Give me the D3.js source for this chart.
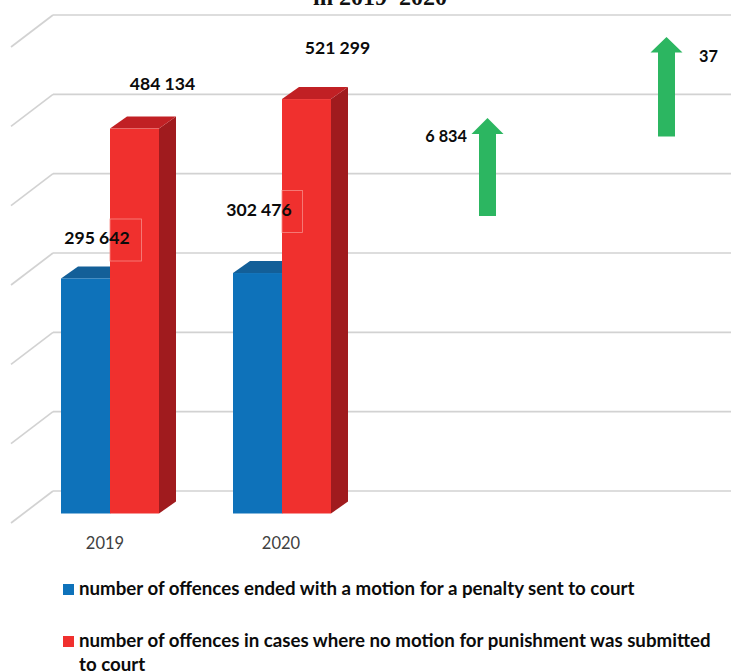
<!DOCTYPE html>
<html><head><meta charset="utf-8">
<script src="https://cdn.jsdelivr.net/npm/d3@7"></script>
<style>html,body{margin:0;padding:0;background:#fff;overflow:hidden}svg{display:block}text{font-family:Lato,sans-serif}</style>
</head><body><div id="chart"></div>
<script>
const years = ["2019", "2020"];
const seriesNames = ["number of offences ended with a motion for a penalty sent to court", "number of offences in cases where no motion for punishment was submitted to court"];
const seriesKeys = ["sent", "notSent"];
const sentValues = [295642, 302476];
const notSentValues = [484134, 521299];
const gridTicks = [0, 100000, 200000, 300000, 400000, 500000, 600000];
const titleLine = "in 2019\u20132020";
const changeLabels = ["6 834", "37"];

const W = 731, H = 672;
const svg = d3.select("#chart").append("svg").attr("width", W).attr("height", H);

const wallY = d3.scaleLinear().domain([0, 600000]).range([491, 15]);
const barY = d3.scaleLinear().domain([0, 600000]).range([513.5, 36.5]);
const groupX = d3.scalePoint().domain(years).range([61, 233]);
const seriesX = d3.scaleBand().domain(seriesKeys).range([0, 98]);
const floorDX = 42, floorDY = 32, barDX = 17, barDY = 12;

// walls
const grid = svg.append("g").attr("fill", "none").attr("stroke", "#d2d2d2").attr("stroke-width", 1.7);
grid.selectAll("line.h").data(gridTicks).join("line").attr("class", "h")
  .attr("x1", 53).attr("x2", W).attr("y1", d => wallY(d)).attr("y2", d => wallY(d));
grid.selectAll("line.d").data(gridTicks).join("line").attr("class", "d")
  .attr("x1", 53).attr("x2", 53 - floorDX).attr("y1", d => wallY(d)).attr("y2", d => wallY(d) + floorDY);

// title (clipped by the top edge, as in the reference)
svg.append("text").attr("x", 380).attr("y", 5).attr("text-anchor", "middle")
  .style("font-family", "'Liberation Serif',serif").attr("font-weight", 700).attr("font-size", 24).attr("fill", "#111").text(titleLine);

const colors = {
  sent: {front: "#0E72BA", top: "#135F98", side: "#0C4F80"},
  notSent: {front: "#F0302E", top: "#C12024", side: "#A01B1E"}
};
const rows = years.flatMap((y, i) => [
  {year: y, key: "sent", value: sentValues[i]},
  {year: y, key: "notSent", value: notSentValues[i]}
]);
const bars = svg.append("g").selectAll("g").data(rows).join("g");
const x0 = d => groupX(d.year) + seriesX(d.key);
const poly = pts => pts.map(p => p.join(",")).join(" ");
bars.append("polygon").attr("fill", d => colors[d.key].side).attr("points", d => {
  const x = x0(d) + seriesX.bandwidth(), t = barY(d.value), b = barY(0);
  return poly([[x, t], [x + barDX, t - barDY], [x + barDX, b - barDY], [x, b]]);
});
bars.append("polygon").attr("fill", d => colors[d.key].top).attr("points", d => {
  const x = x0(d), w = seriesX.bandwidth(), t = barY(d.value);
  return poly([[x, t], [x + w, t], [x + w + barDX, t - barDY], [x + barDX, t - barDY]]);
});
bars.append("rect").attr("fill", d => colors[d.key].front)
  .attr("x", x0).attr("width", seriesX.bandwidth())
  .attr("y", d => barY(d.value)).attr("height", d => barY(0) - barY(d.value));

// faint leftover label frames on the red bars
svg.append("g").attr("fill", "none").attr("stroke", "#f78a86").attr("stroke-width", 0.8)
  .selectAll("rect").data(years).join("rect")
  .attr("x", y => groupX(y) + seriesX("notSent"))
  .attr("y", (y, i) => [219, 190.5][i]).attr("height", 42)
  .attr("width", (y, i) => [31.5, 20.5][i]);

// value labels
const labelStyle = s => s.attr("font-weight", 700).attr("fill", "#0b0b0b");
svg.append("g").selectAll("text").data(rows).join("text").call(labelStyle)
  .attr("font-size", 17.6).attr("text-anchor", "middle")
  .attr("x", d => x0(d) + seriesX.bandwidth() / 2 + (d.key === "sent" ? (d.year === "2019" ? 11.5 : 1.5) : (d.year === "2019" ? 28 : 31)))
  .attr("y", d => barY(d.value) + (d.key === "sent" ? (d.year === "2019" ? -34 : -57) : (d.year === "2019" ? -39 : -45)))
  .text(d => d3.format(",")(d.value).replace(/,/g, " "));

// year labels
svg.append("g").selectAll("text").data(years).join("text")
  .attr("x", y => groupX(y) + seriesX.bandwidth()).attr("dx", (y, i) => [-5, -1][i]).attr("y", 549)
  .attr("text-anchor", "middle").attr("font-size", 16.5).attr("fill", "#404040").text(y => y);

// change arrows
const arrowSpec = [{cx: 487.5, tip: 118, neck: 134, bottom: 216}, {cx: 666.5, tip: 37, neck: 52.5, bottom: 136.5}];
svg.append("g").selectAll("polygon").data(arrowSpec).join("polygon").attr("fill", "#2CB661")
  .attr("points", a => poly([[a.cx, a.tip], [a.cx + 16, a.neck], [a.cx + 8.5, a.neck], [a.cx + 8.5, a.bottom], [a.cx - 8.5, a.bottom], [a.cx - 8.5, a.neck], [a.cx - 16, a.neck]]));
svg.append("text").call(labelStyle).attr("font-size", 16.3).attr("x", 467).attr("y", 142).attr("text-anchor", "end").text(changeLabels[0]);
svg.append("text").call(labelStyle).attr("font-size", 16.3).attr("x", 699).attr("y", 62).text(changeLabels[1]);

// legend
const legend = svg.append("g");
const legendRows = [[seriesKeys[0], 595, [seriesNames[0]]], [seriesKeys[1], 647, [seriesNames[1].replace(" to court", ""), "to court"]]];
legendRows.forEach(([k, y, lines]) => {
  legend.append("rect").attr("x", 63).attr("y", y - 11).attr("width", 11).attr("height", 11).attr("fill", colors[k].front);
  lines.forEach((l, i) => legend.append("text").attr("x", 79).attr("y", y + i * 24)
    .attr("font-weight", 700).attr("font-size", 18.7).attr("fill", "#0b0b0b").text(l));
});
</script></body></html>
